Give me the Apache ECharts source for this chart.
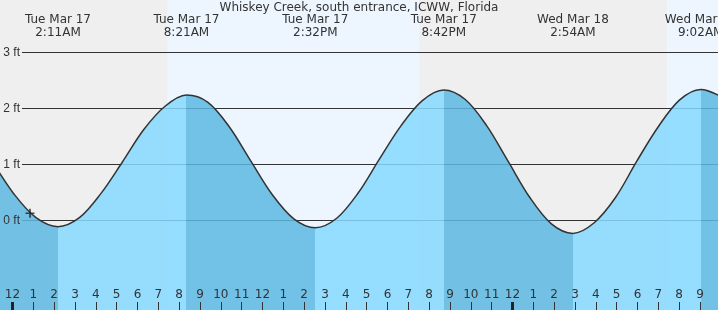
<!DOCTYPE html>
<html><head><meta charset="utf-8">
<script src="https://cdn.jsdelivr.net/npm/echarts@6/dist/echarts.min.js"></script>
<style>html,body{margin:0;padding:0;background:#fff}#c{width:718px;height:310px}</style>
</head><body><div id="c"></div>
<script>
const chartTitle = 'Whiskey Creek, south entrance, ICWW, Florida';
// hours since Tue Mar 17 00:00, tide height in ft
const tideHours = [-2.032, -0.978, 0.076, 1.129, 2.183, 3.211, 4.239, 5.267, 6.294, 7.322, 8.35, 9.381, 10.411, 11.442, 12.472, 13.503, 14.533, 15.561, 16.589, 17.617, 18.644, 19.672, 20.7, 21.733, 22.767, 23.8, 24.833, 25.867, 26.9, 27.922, 28.944, 29.967, 30.989, 32.011, 33.033, 34.078];
const tideFeet  = [1.62, 1.05, 0.47, 0.05, -0.11, 0.05, 0.48, 1.04, 1.62, 2.04, 2.24, 2.11, 1.67, 1.06, 0.46, 0.03, -0.13, 0.04, 0.49, 1.10, 1.69, 2.14, 2.33, 2.16, 1.69, 1.05, 0.41, -0.06, -0.23, -0.04, 0.41, 1.06, 1.67, 2.15, 2.34, 2.20];
// high / low tide events
const extremeHours = [2.183, 8.35, 14.533, 20.7, 26.9, 33.033];
const extremeDates = ['Tue Mar 17', 'Tue Mar 17', 'Tue Mar 17', 'Tue Mar 17', 'Wed Mar 18', 'Wed Mar 18'];
const extremeTimes = ['2:11AM', '8:21AM', '2:32PM', '8:42PM', '2:54AM', '9:02AM'];
// day / night periods
const periodStart = [-3, 7.45, 19.52, 31.42];
const periodEnd   = [7.45, 19.52, 31.42, 35];
const periodKind  = ['night', 'day', 'night', 'day'];
// axis ticks
const hourTicks = [0,1,2,3,4,5,6,7,8,9,10,11,12,13,14,15,16,17,18,19,20,21,22,23,24,25,26,27,28,29,30,31,32,33,34];
const midnightTicks = [0, 24];
const feetTicks = [0, 1, 2, 3];
const nowMarker = [[0.84, 0.13]];

const FONT = 'DejaVu Sans';
const TXT = '#333';
const kindColor = { night: '#efefef', day: '#edf6fe' };
const fallColor = '#5cb8e2', riseColor = '#86d9ff';

const xMin = -0.6, xMax = 33.864;
const yMin = -89.5 / 56, yMax = 220.5 / 56;

const tideData = tideHours.map((h, i) => [h, tideFeet[i]]);
const bgData = periodStart.map((s, i) => [s, periodEnd[i], i]);

const pieces = [];
let prev = null;
extremeHours.forEach((h, i) => {
  const p = { color: i % 2 === 0 ? fallColor : riseColor, lt: h };
  if (prev !== null) p.gte = prev;
  pieces.push(p);
  prev = h;
});
pieces.push({ gte: prev, color: extremeHours.length % 2 === 0 ? fallColor : riseColor });

const feetAxisBase = {
  gridIndex: 1, type: 'value', position: 'left',
  min: feetTicks[0], max: feetTicks[feetTicks.length - 1], interval: 1,
  axisLine: { show: false, onZero: false }, axisTick: { show: false }
};

const chart = echarts.init(document.getElementById('c'), null, { renderer: 'canvas' });
chart.setOption({
  animation: false,
  textStyle: { fontFamily: FONT },
  title: {
    text: chartTitle, left: 'center', top: 0, padding: [2, 0, 0, 0],
    textStyle: { fontSize: 12, fontWeight: 'normal', color: TXT, fontFamily: FONT }
  },
  grid: [
    { left: 0, right: 0, top: 0, bottom: 0, containLabel: false, outerBoundsMode: 'none' },
    { left: 22, right: 0, top: 52.5, bottom: 89.5, containLabel: false, outerBoundsMode: 'none' }
  ],
  visualMap: { show: false, type: 'piecewise', seriesIndex: 1, dimension: 0, pieces: pieces },
  xAxis: [
    {
      gridIndex: 0, type: 'value', min: xMin, max: xMax, position: 'bottom', z: 10,
      axisLine: { show: false, onZero: false }, splitLine: { show: false },
      axisTick: { inside: true, length: 8, customValues: hourTicks, lineStyle: { color: TXT, width: 1 } },
      axisLabel: {
        inside: true, margin: 9, customValues: hourTicks, color: TXT, fontSize: 12, fontFamily: FONT,
        formatter: v => { const h = ((Math.round(v) % 12) + 12) % 12; return h === 0 ? '12' : String(h); }
      }
    },
    {
      gridIndex: 0, type: 'value', min: xMin, max: xMax, position: 'bottom', z: 11,
      axisLine: { show: false, onZero: false }, splitLine: { show: false }, axisLabel: { show: false },
      axisTick: { inside: true, length: 8, customValues: midnightTicks, lineStyle: { color: '#222', width: 3 } }
    },
    {
      gridIndex: 0, type: 'value', min: xMin, max: xMax, position: 'top', z: 10,
      axisLine: { show: false, onZero: false }, splitLine: { show: false }, axisTick: { show: false },
      axisLabel: {
        inside: true, margin: 13, customValues: extremeHours, color: TXT, fontSize: 12, lineHeight: 13, fontFamily: FONT,
        formatter: v => {
          const i = extremeHours.findIndex(e => Math.abs(e - v) < 1e-6);
          return i < 0 ? '' : extremeDates[i] + '\n' + extremeTimes[i];
        }
      }
    },
    { gridIndex: 1, type: 'value', min: xMin, max: xMax, show: false, axisLine: { onZero: false } }
  ],
  yAxis: [
    { gridIndex: 0, type: 'value', min: yMin, max: yMax, show: false, axisLine: { onZero: false } },
    Object.assign({}, feetAxisBase, {
      z: 0,
      splitLine: { show: true, lineStyle: { color: '#333', width: 1 } },
      axisLabel: { show: false }
    }),
    Object.assign({}, feetAxisBase, {
      z: 10,
      splitLine: { show: false },
      axisLabel: { margin: 2, color: TXT, fontSize: 12, fontFamily: 'Liberation Sans', formatter: v => v + ' ft' }
    })
  ],
  series: [
    {
      type: 'custom', xAxisIndex: 0, yAxisIndex: 0, z: -1, silent: true,
      data: bgData,
      renderItem: (params, api) => {
        const a = api.coord([api.value(0), yMax]);
        const b = api.coord([api.value(1), yMin]);
        const cs = params.coordSys;
        return {
          type: 'rect',
          shape: echarts.graphic.clipRectByRect(
            { x: a[0], y: a[1], width: b[0] - a[0], height: b[1] - a[1] },
            { x: cs.x, y: cs.y, width: cs.width, height: cs.height }
          ),
          style: { fill: kindColor[periodKind[params.dataIndex]] }
        };
      }
    },
    {
      type: 'line', xAxisIndex: 0, yAxisIndex: 0, data: tideData, smooth: 0.333,
      symbol: 'none', silent: true, z: 2,
      lineStyle: { width: 0, opacity: 0 },
      areaStyle: { origin: 'start', opacity: 0.85 }
    },
    {
      type: 'line', xAxisIndex: 0, yAxisIndex: 0, data: tideData, smooth: 0.333,
      symbol: 'none', silent: true, z: 3,
      lineStyle: { color: '#333', width: 1.5 }
    },
    {
      type: 'scatter', xAxisIndex: 0, yAxisIndex: 0, data: nowMarker, z: 4, silent: true,
      symbol: 'path://M3.25,0H4.75V3.25H8V4.75H4.75V8H3.25V4.75H0V3.25H3.25Z', symbolSize: 9,
      itemStyle: { color: '#222' }
    }
  ]
});
</script>
</body></html>
